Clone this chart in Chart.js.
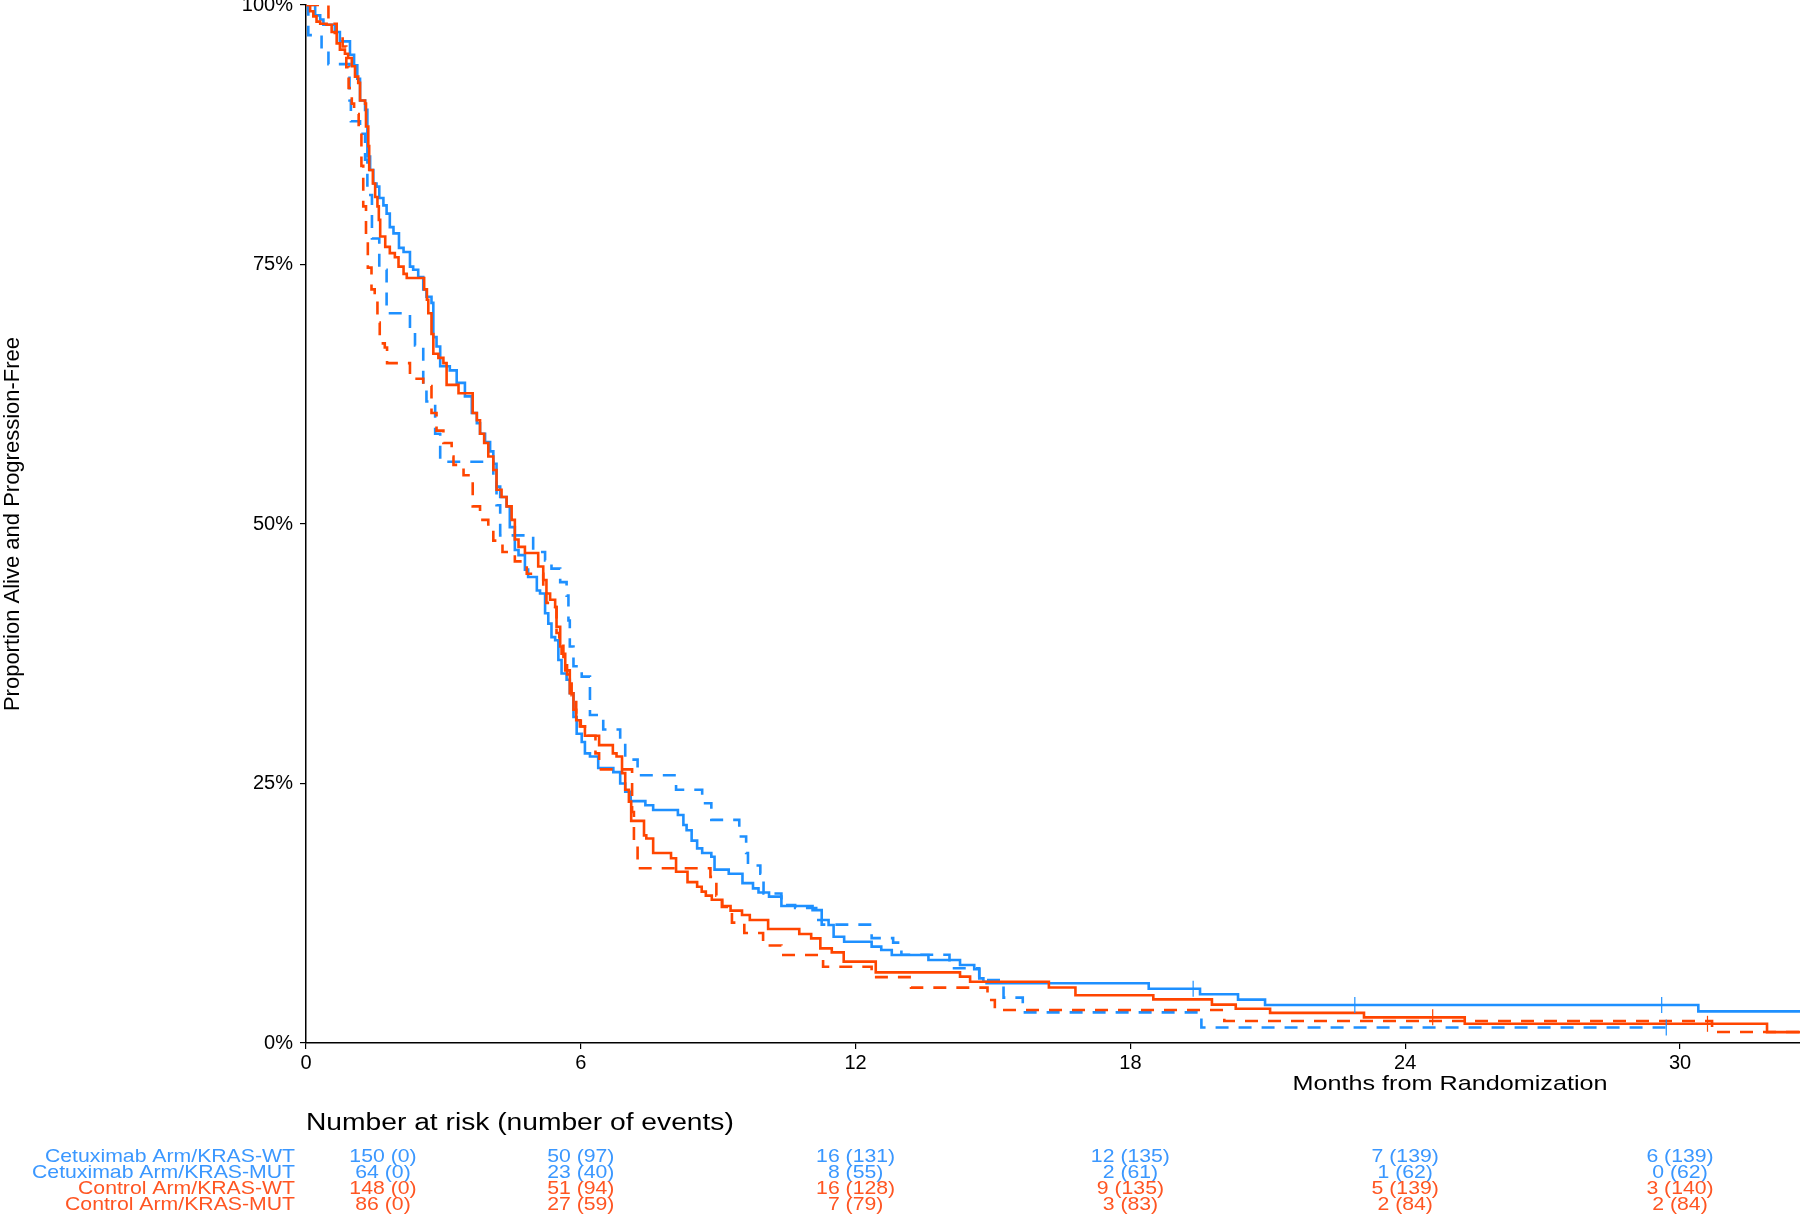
<!DOCTYPE html>
<html><head><meta charset="utf-8">
<script src="https://cdn.jsdelivr.net/npm/chart.js@4.4.0/dist/chart.umd.min.js"></script>
<style>html,body{margin:0;padding:0;background:#fff;overflow:hidden;} canvas{display:block;}</style>
</head><body>
<canvas id="c" width="1800" height="1216"></canvas>
<script>
// ---------- DATA ----------
const xTicks = [0, 6, 12, 18, 24, 30];
const yTicks = [0, 0.25, 0.5, 0.75, 1];
const xMax = 32.62;
const yTitle = 'Proportion Alive and Progression-Free';
const xTitle = 'Months from Randomization';
const riskTitle = 'Number at risk (number of events)';

// Cetuximab Arm / KRAS-WT (solid blue)
const cetuxWT_t = [0,0.2,0.31,0.38,0.63,0.74,0.96,1.05,1.12,1.18,1.29,1.34,1.40,1.47,1.54,1.60,1.69,1.76,1.83,1.91,2.03,2.13,2.27,2.34,2.45,2.56,2.63,2.74,2.78,2.85,2.93,3.14,3.29,3.47,3.62,3.73,3.80,3.91,4.02,4.09,4.16,4.24,4.38,4.45,4.56,4.64,4.78,4.85,5.04,5.11,5.22,5.29,5.36,5.44,5.51,5.58,5.69,5.76,5.84,5.91,6.02,6.09,6.20,6.38,6.71,6.86,6.97,7.09,7.41,7.58,8.12,8.24,8.31,8.42,8.54,8.65,8.85,8.92,9.23,9.53,9.76,9.88,10.11,10.38,11.06,11.26,11.41,11.52,11.75,12.35,12.56,12.79,13.59,14.28,14.59,14.70,14.79,14.86,18.4,19.52,20.35,20.94,30.4,32.62];
const cetuxWT_s = [1,0.990,0.986,0.981,0.974,0.965,0.952,0.942,0.929,0.908,0.899,0.854,0.841,0.828,0.825,0.814,0.807,0.799,0.786,0.780,0.766,0.762,0.748,0.745,0.738,0.726,0.719,0.713,0.680,0.671,0.652,0.648,0.636,0.623,0.607,0.597,0.587,0.579,0.570,0.558,0.536,0.526,0.517,0.497,0.475,0.470,0.456,0.449,0.436,0.433,0.414,0.404,0.391,0.388,0.369,0.356,0.350,0.337,0.314,0.298,0.290,0.279,0.276,0.265,0.261,0.250,0.242,0.233,0.229,0.2245,0.2197,0.21,0.205,0.195,0.1875,0.183,0.1795,0.167,0.163,0.154,0.149,0.145,0.141,0.132,0.128,0.1185,0.1137,0.1024,0.0976,0.0928,0.0896,0.0848,0.080,0.0751,0.071,0.0623,0.059,0.0575,0.0523,0.047,0.0418,0.0366,0.0305,0.0305];
const cetuxWT_censT = [19.37, 22.9, 29.6];
const cetuxWT_censS = [0.0523, 0.0366, 0.0366];

// Cetuximab Arm / KRAS-MUT (dashed blue)
const cetuxMUT_t = [0,0.05,0.34,0.49,0.95,0.98,1.18,1.29,1.34,1.44,1.60,1.76,2.27,2.38,2.56,2.63,2.82,2.93,4.09,4.16,4.24,4.96,5.22,5.36,5.55,5.69,5.73,5.76,5.84,6.02,6.20,6.49,6.86,6.97,7.24,8.08,8.65,8.85,9.46,9.61,9.65,9.92,9.99,10.38,10.68,11.14,11.26,12.35,12.82,13.0,14.05,14.7,15.23,15.65,19.55,29.7];
const cetuxMUT_s = [1,0.971,0.957,0.943,0.908,0.888,0.876,0.851,0.817,0.775,0.745,0.703,0.690,0.672,0.632,0.618,0.587,0.560,0.542,0.518,0.489,0.473,0.465,0.457,0.444,0.431,0.407,0.382,0.363,0.353,0.316,0.302,0.287,0.273,0.258,0.244,0.231,0.215,0.199,0.183,0.171,0.163,0.144,0.133,0.130,0.1185,0.114,0.101,0.0967,0.085,0.072,0.0607,0.0437,0.0295,0.015,0.015];
const cetuxMUT_censT = [29.7];
const cetuxMUT_censS = [0.015];

// Control Arm / KRAS-WT (solid red)
const ctrlWT_t = [0,0.09,0.16,0.23,0.31,0.45,0.56,0.63,0.67,0.74,0.85,0.92,1.0,1.07,1.14,1.18,1.29,1.31,1.36,1.38,1.46,1.51,1.56,1.59,1.62,1.73,1.83,1.94,2.02,2.13,2.20,2.58,2.64,2.67,2.74,2.78,2.89,3.0,3.07,3.33,3.64,3.73,3.80,3.89,3.98,4.09,4.16,4.27,4.38,4.49,4.56,4.64,4.78,5.07,5.18,5.25,5.33,5.44,5.47,5.55,5.58,5.66,5.76,5.84,5.90,5.98,6.09,6.40,6.70,6.78,6.90,6.97,7.05,7.10,7.38,7.43,7.58,7.97,8.08,8.33,8.54,8.64,8.73,8.86,9.09,9.27,9.52,9.69,10.09,10.77,11.03,11.23,11.48,11.74,12.44,14.28,14.5,16.22,16.8,18.5,19.78,20.3,21.05,23.1,25.3,31.9,32.62];
const ctrlWT_s = [1,0.994,0.989,0.984,0.982,0.981,0.974,0.973,0.963,0.957,0.953,0.949,0.941,0.931,0.925,0.908,0.905,0.883,0.864,0.841,0.828,0.815,0.806,0.793,0.777,0.767,0.761,0.757,0.748,0.741,0.737,0.726,0.716,0.703,0.683,0.664,0.660,0.655,0.634,0.626,0.607,0.600,0.587,0.578,0.565,0.552,0.533,0.526,0.517,0.504,0.485,0.478,0.472,0.459,0.446,0.433,0.427,0.420,0.401,0.382,0.375,0.359,0.337,0.321,0.311,0.305,0.296,0.287,0.279,0.276,0.26,0.244,0.2325,0.214,0.200,0.197,0.183,0.178,0.165,0.155,0.1506,0.1458,0.142,0.138,0.132,0.1275,0.1233,0.1185,0.1098,0.105,0.1008,0.0912,0.0873,0.0784,0.068,0.0639,0.059,0.0535,0.046,0.042,0.037,0.033,0.029,0.0247,0.0185,0.0105,0.0105];
const ctrlWT_censT = [24.6, 30.6];
const ctrlWT_censS = [0.0247, 0.0185];

// Control Arm / KRAS-MUT (dashed red)
const ctrlMUT_t = [0,0.49,0.67,0.80,0.88,0.93,1.0,1.05,1.15,1.21,1.25,1.31,1.35,1.43,1.50,1.56,1.61,1.72,1.77,2.27,2.38,2.56,2.74,2.85,3.0,3.18,3.22,3.44,3.64,3.80,3.98,4.09,4.29,4.56,4.82,5.18,5.25,5.44,5.47,5.53,5.62,5.70,5.80,5.90,6.0,6.09,6.32,6.40,7.12,7.16,7.24,8.83,8.96,9.08,9.30,9.57,9.98,10.38,11.29,12.35,13.21,14.88,15.04,20.05,30.7,32.62];
const ctrlMUT_s = [1,0.982,0.970,0.960,0.94,0.92,0.905,0.895,0.88,0.845,0.806,0.773,0.747,0.726,0.716,0.694,0.674,0.670,0.655,0.642,0.640,0.633,0.607,0.590,0.578,0.565,0.557,0.547,0.517,0.504,0.494,0.484,0.473,0.464,0.452,0.436,0.424,0.420,0.395,0.388,0.372,0.355,0.335,0.316,0.305,0.296,0.279,0.2636,0.2225,0.19,0.1683,0.160,0.142,0.131,0.116,0.106,0.094,0.0848,0.0735,0.0635,0.0533,0.0414,0.0318,0.0212,0.0106,0.0106];

// Risk table
const riskTimes = [0, 6, 12, 18, 24, 30];
const riskLabels = ['Cetuximab Arm/KRAS-WT', 'Cetuximab Arm/KRAS-MUT', 'Control Arm/KRAS-WT', 'Control Arm/KRAS-MUT'];
const riskAtRisk = [
  [150, 50, 16, 12, 7, 6],
  [64, 23, 8, 2, 1, 0],
  [148, 51, 16, 9, 5, 3],
  [86, 27, 7, 3, 2, 2]
];
const riskEvents = [
  [0, 97, 131, 135, 139, 139],
  [0, 40, 55, 61, 62, 62],
  [0, 94, 128, 135, 139, 140],
  [0, 59, 79, 83, 84, 84]
];

// ---------- STYLE ----------
const BLUE = '#1E90FF', RED = '#FF4500';
const BLUE_TXT = '#3A97FF', RED_TXT = '#FF5522';
const riskColors = [BLUE_TXT, BLUE_TXT, RED_TXT, RED_TXT];
const FONT = '"Liberation Sans", Arial, sans-serif';

function pts(t, s) { return t.map((v, i) => ({ x: v, y: s[i] })); }

const riskPlugin = {
  id: 'riskTable',
  afterDraw(chart) {
    const ctx = chart.ctx, xs = chart.scales.x;
    const SX = 1.2;
    function txt(str, x, y, size, color, align) {
      ctx.save();
      ctx.font = size + 'px ' + FONT;
      ctx.fillStyle = color;
      ctx.textBaseline = 'middle';
      ctx.textAlign = align;
      ctx.translate(x, y);
      ctx.scale(SX, 1);
      ctx.fillText(str, 0, 0);
      ctx.restore();
    }
    txt(xTitle, 1450, 1084, 21, '#000', 'center');
    txt(riskTitle, xs.getPixelForValue(0), 1124, 23.5, '#000', 'left');
    const rowY = [1157, 1173, 1189.5, 1205];
    riskLabels.forEach((lab, r) => {
      txt(lab, 295, rowY[r], 17.7, riskColors[r], 'right');
      riskTimes.forEach((t, c) => {
        const px = xs.getPixelForValue(t) + (c === 0 ? 77 : 0);
        txt(riskAtRisk[r][c] + ' (' + riskEvents[r][c] + ')', px, rowY[r], 17.7, riskColors[r], 'center');
      });
    });
  }
};

const censorDs = (t, s, color) => ({
  type: 'scatter', data: pts(t, s), showLine: false,
  pointStyle: 'line', rotation: 90, pointRadius: 8, pointBorderWidth: 1.2,
  borderColor: color, pointBorderColor: color, backgroundColor: color, order: 0
});

new Chart(document.getElementById('c'), {
  type: 'line',
  data: {
    datasets: [
      { label: riskLabels[0], data: pts(cetuxWT_t, cetuxWT_s), borderColor: BLUE, order: 4 },
      { label: riskLabels[1], data: pts(cetuxMUT_t, cetuxMUT_s), borderColor: BLUE, borderDash: [13, 10], order: 3 },
      { label: riskLabels[2], data: pts(ctrlWT_t, ctrlWT_s), borderColor: RED, order: 2 },
      { label: riskLabels[3], data: pts(ctrlMUT_t, ctrlMUT_s), borderColor: RED, borderDash: [13, 10], order: 1 },
      censorDs(cetuxWT_censT, cetuxWT_censS, BLUE),
      censorDs(cetuxMUT_censT, cetuxMUT_censS, BLUE),
      censorDs(ctrlWT_censT, ctrlWT_censS, RED)
    ]
  },
  options: {
    responsive: false, animation: false, devicePixelRatio: 1,
    layout: { autoPadding: false, padding: { top: 5, left: 0, right: 0, bottom: 0 } },
    plugins: { legend: { display: false }, tooltip: { enabled: false } },
    elements: {
      line: { borderWidth: 2.6, stepped: 'before', tension: 0, fill: false, borderCapStyle: 'butt' },
      point: { radius: 0 }
    },
    scales: {
      x: {
        type: 'linear', min: 0, max: xMax, bounds: 'data',
        afterBuildTicks: s => { s.ticks = xTicks.map(v => ({ value: v })); s.min = 0; s.max = xMax; },
        afterFit: s => { s.height = 173; s.paddingLeft = 0; s.paddingRight = 0; },
        grid: { drawOnChartArea: false, drawTicks: true, tickLength: 6, color: '#000', lineWidth: 1.2 },
        border: { display: true, color: '#000', width: 1.5 },
        ticks: { color: '#000', font: { family: FONT, size: 20 }, padding: 2, maxRotation: 0, autoSkip: false }
      },
      y: {
        type: 'linear', min: 0, max: 1, bounds: 'data',
        afterBuildTicks: s => { s.ticks = yTicks.map(v => ({ value: v })); s.min = 0; s.max = 1; },
        afterFit: s => { s.width = 306; s.paddingTop = 0; s.paddingBottom = 0; },
        grid: { drawOnChartArea: false, drawTicks: true, tickLength: 6, color: '#000', lineWidth: 1.2 },
        border: { display: true, color: '#000', width: 1.5 },
        ticks: { color: '#000', font: { family: FONT, size: 20 }, padding: 7,
                 callback: v => Math.round(v * 100) + '%' },
        title: { display: true, text: yTitle, color: '#000', font: { family: FONT, size: 22 }, padding: { top: 0, bottom: 0 } }
      }
    }
  },
  plugins: [riskPlugin]
});
</script>
</body></html>
